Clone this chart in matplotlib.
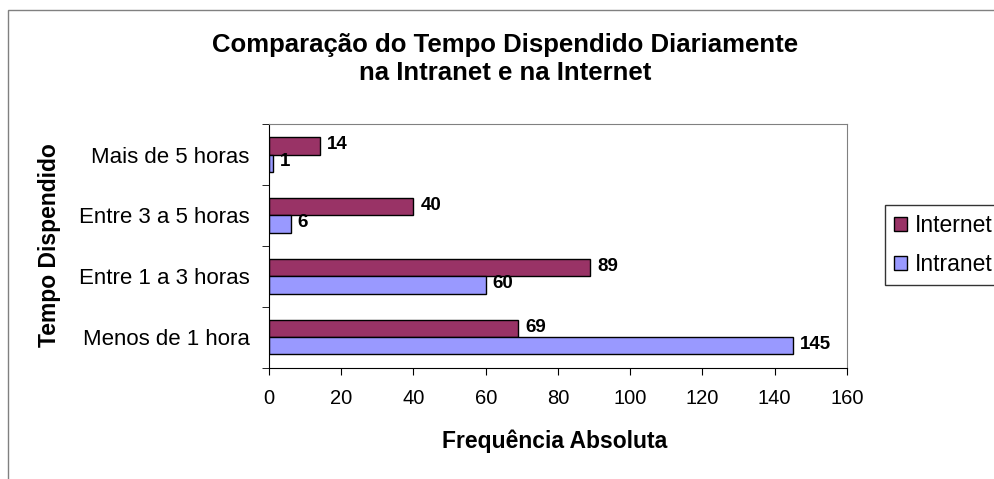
import matplotlib.pyplot as plt
import numpy as np
from matplotlib.patches import Rectangle

plt.rcParams['font.family'] = ['Liberation Sans', 'DejaVu Sans']

categories = ["Menos de 1 hora", "Entre 1 a 3 horas", "Entre 3 a 5 horas", "Mais de 5 horas"]
internet = [69, 89, 40, 14]
intranet = [145, 60, 6, 1]
xticks = [0, 20, 40, 60, 80, 100, 120, 140, 160]

fig = plt.figure(figsize=(9.94, 4.79), dpi=100)
ax = fig.add_axes([0.2706, 0.232, 0.5815, 0.509])

# outer chart border (only left and top visible)
fig.patches.append(Rectangle((8 / 994, -0.1), 1.2, 1 - 10 / 479 + 0.1,
                             transform=fig.transFigure, fill=False,
                             edgecolor="#808080", lw=1.0))

y = np.arange(len(categories))
h = 0.28
b1 = ax.barh(y + h / 2, internet, height=h, color="#993366", edgecolor="black", lw=1.0, label="Internet")
b2 = ax.barh(y - h / 2, intranet, height=h, color="#9999FF", edgecolor="black", lw=1.0, label="Intranet")

for bars, vals in ((b1, internet), (b2, intranet)):
    for bar, v in zip(bars, vals):
        ax.annotate(str(v), (bar.get_width(), bar.get_y() + bar.get_height() / 2),
                    xytext=(5, 1), textcoords="offset points", va="center", ha="left",
                    fontsize=13.5, fontweight="bold")

ax.set_xlim(0, 160)
ax.set_ylim(-0.5, len(categories) - 0.5)
ax.set_xticks(xticks)
ax.set_xticklabels([str(t) for t in xticks], fontsize=14.5)
ax.set_yticks(y)
ax.set_yticklabels(categories, fontsize=16)
ax.tick_params(axis="y", length=0, pad=14)
ax.set_yticks(np.arange(len(categories) + 1) - 0.5, minor=True)
ax.tick_params(axis="y", which="minor", length=5, direction="out")
ax.tick_params(axis="x", length=5, direction="out", pad=10)

for s in ("top", "right"):
    ax.spines[s].set_color("#808080")
for s in ("left", "bottom"):
    ax.spines[s].set_color("black")

ax.set_xlabel("Frequência Absoluta", fontsize=16.5, fontweight="bold", va="center")
ax.xaxis.set_label_coords(0.495, -0.299)
ax.set_ylabel("Tempo Dispendido", fontsize=16.5, fontweight="bold", va="center")
ax.yaxis.set_label_coords(-0.38, 0.504)

fig.text(0.508, 1 - 59 / 479, "Comparação do Tempo Dispendido Diariamente\nna Intranet e na Internet",
         ha="center", va="center", fontsize=18.5, fontweight="bold", linespacing=1.25)

handles = [b1, b2]
leg = fig.legend(handles, ["Internet", "Intranet"], loc="upper left",
                 bbox_to_anchor=(885 / 994, 1 - 205 / 479), frameon=True, fancybox=False,
                 edgecolor="black", fontsize=16.5, handlelength=0.55, handleheight=0.55,
                 handletextpad=0.35, labelspacing=0.7, borderpad=0.4, borderaxespad=0)
leg.get_frame().set_linewidth(1.0)

fig.savefig("out.png", dpi=100)
